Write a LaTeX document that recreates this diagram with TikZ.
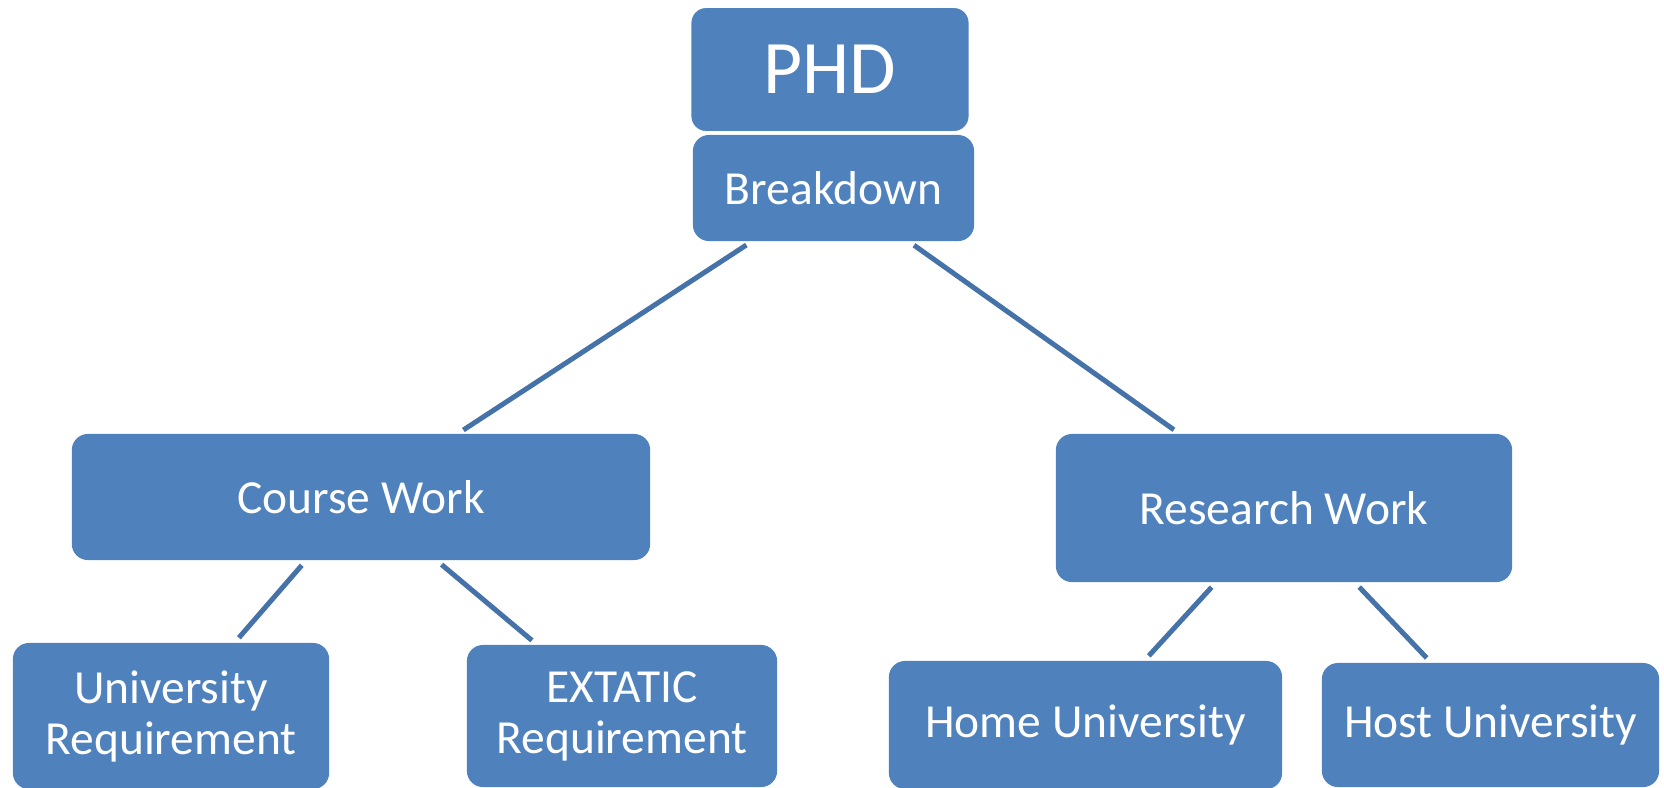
\documentclass[tikz,border=0pt]{standalone}
\usepackage{fontspec}
\setmainfont{Carlito}
\definecolor{boxblue}{HTML}{4F81BD}
\definecolor{lineblue}{HTML}{4672AA}
\usetikzlibrary{positioning}

\begin{document}
\begin{tikzpicture}[x=0.01cm, y=-0.01cm,
  every node/.style={rectangle, rounded corners=0.16cm, fill=boxblue, text=white, inner sep=0pt, align=center, font=\fontsize{13.5}{14.5}\selectfont},
  link/.style={draw=lineblue, line width=0.05cm, shorten <=0.06cm, shorten >=0.06cm}]
\clip (0,0) rectangle (1664,787);
\node[minimum width=2.81cm, minimum height=1.06cm] (Brk) at (833.5,188) {Breakdown};
\node[draw=white, line width=0.03cm, minimum width=2.8cm, minimum height=1.26cm, font=\fontsize{21.5}{23}\selectfont] (Phd) at (830,69.5) {PHD};
\node[minimum width=5.78cm, minimum height=1.26cm] (Course) at (361,497) {Course Work};
\node[minimum width=4.56cm, minimum height=1.48cm] (Research) at (1284,508) {Research Work};
\node[minimum width=3.16cm, minimum height=1.46cm] (Univ) at (171,716) {University\\Requirement};
\node[minimum width=3.10cm, minimum height=1.42cm] (Extatic) at (622,716) {EXTATIC\\Requirement};
\node[minimum width=3.93cm, minimum height=1.28cm] (Home) at (1085.5,725) {Home University};
\node[minimum width=3.37cm, minimum height=1.24cm] (Host) at (1490.5,725) {Host University};
\draw[link] (Brk) -- (Course);
\draw[link] (Brk) -- (Research);
\draw[link] (Course) -- (Univ);
\draw[link] (Course) -- (Extatic);
\draw[link] (Research) -- (Home);
\draw[link] (Research) -- (Host);
\end{tikzpicture}
\end{document}
